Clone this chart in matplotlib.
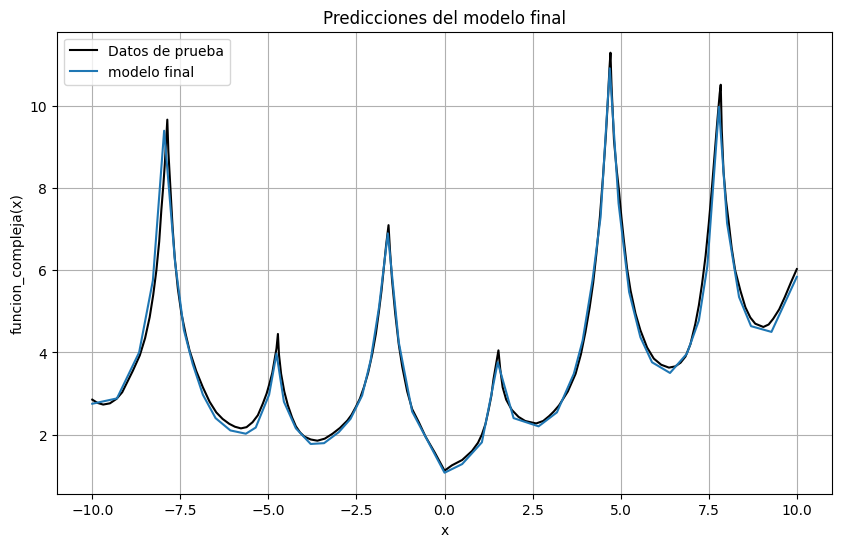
import matplotlib
matplotlib.use("Agg")
import matplotlib.pyplot as plt

# Test data (black line)
x_test = [-10.0, -9.85, -9.69, -9.5, -9.31, -9.15, -9.03, -8.85, -8.65, -8.5,
          -8.37, -8.27, -8.18, -8.1, -8.04, -7.98, -7.94, -7.9, -7.87,
          -7.84, -7.78, -7.72, -7.66, -7.57, -7.47, -7.35, -7.24, -7.05, -6.86,
          -6.67, -6.48, -6.3, -6.11, -5.95, -5.78, -5.62, -5.45, -5.3, -5.16,
          -5.05, -4.97, -4.89, -4.83, -4.77, -4.73,
          -4.70, -4.64, -4.55, -4.45, -4.33, -4.22, -4.1, -3.98, -3.8, -3.61,
          -3.4, -3.18, -2.97, -2.76, -2.64, -2.52, -2.4, -2.29, -2.17, -2.05,
          -1.95, -1.86, -1.79, -1.72, -1.66, -1.59,
          -1.55, -1.49, -1.4, -1.30, -1.2, -1.06, -0.92, -0.73, -0.54, -0.27,
          0.0, 0.21, 0.5, 0.78, 0.95, 1.06, 1.16, 1.25, 1.33, 1.39, 1.46, 1.53,
          1.58, 1.65, 1.75, 1.91, 2.1, 2.29, 2.6, 2.8, 2.97, 3.1,
          3.25, 3.5, 3.72, 3.87, 4.0, 4.12, 4.22, 4.31, 4.41, 4.50,
          4.58, 4.64, 4.68, 4.71,
          4.74, 4.81, 4.88, 4.95, 5.02, 5.09, 5.18, 5.28, 5.42, 5.56,
          5.75, 5.94, 6.15, 6.37, 6.55, 6.7, 6.84, 6.98, 7.12, 7.22,
          7.31, 7.41, 7.50, 7.58, 7.66, 7.74, 7.81, 7.84,
          7.87, 7.92, 7.99, 8.06, 8.15, 8.25, 8.4, 8.54, 8.68, 8.82,
          9.05, 9.2, 9.33, 9.5, 9.66, 9.83, 10.0]
y_test = [2.85, 2.77, 2.73, 2.76, 2.87, 3.03, 3.24, 3.55, 3.93, 4.35,
          4.86, 5.4, 6.0, 6.7, 7.46, 8.1, 8.6, 9.2, 9.67,
          8.9, 7.95, 7.05, 6.32, 5.55, 4.95, 4.45, 4.05, 3.55, 3.15,
          2.8, 2.54, 2.38, 2.26, 2.19, 2.15, 2.18, 2.3, 2.47, 2.75,
          3.0, 3.24, 3.5, 3.8, 4.1, 4.45,
          3.95, 3.48, 3.05, 2.72, 2.42, 2.2, 2.05, 1.95, 1.88, 1.85,
          1.9, 2.02, 2.16, 2.34, 2.48, 2.67, 2.88, 3.15, 3.5, 3.97,
          4.45, 5.02, 5.5, 6.08, 6.6, 7.1,
          6.5, 5.76, 4.95, 4.2, 3.65, 3.05, 2.62, 2.3, 1.95, 1.55,
          1.12, 1.25, 1.38, 1.6, 1.8, 2.0, 2.25, 2.6, 2.95, 3.35, 3.7, 4.05,
          3.6, 3.15, 2.85, 2.6, 2.43, 2.33, 2.27, 2.33, 2.45, 2.56,
          2.71, 3.05, 3.48, 3.95, 4.5, 5.1, 5.7, 6.4, 7.3, 8.3,
          9.3, 10.2, 10.9, 11.3,
          10.5, 9.17, 8.5, 7.95, 7.3, 6.73, 6.05, 5.51, 4.95, 4.54,
          4.12, 3.85, 3.7, 3.63, 3.66, 3.75, 3.9, 4.2, 4.7, 5.15,
          5.67, 6.35, 7.13, 7.9, 8.75, 9.6, 10.3, 10.52,
          9.4, 8.4, 7.7, 7.22, 6.55, 6.0, 5.5, 5.1, 4.85, 4.7,
          4.62, 4.68, 4.82, 5.05, 5.35, 5.7, 6.03]

# Final model predictions (blue line)
x_pred = [-10.0, -9.3, -8.67, -8.28, -7.96, -7.65, -7.40, -7.15, -6.86, -6.5,
          -6.08, -5.64, -5.36, -4.98, -4.77, -4.56, -4.22, -3.80, -3.42, -3.0,
          -2.67, -2.34, -2.1, -1.86, -1.61, -1.30, -0.92, 0.0, 0.5, 1.06,
          1.51, 1.96, 2.67, 3.19, 3.67, 3.92, 4.2, 4.43, 4.69, 4.94,
          5.24, 5.56, 5.89, 6.40, 6.88, 7.22, 7.46, 7.79, 8.02, 8.36,
          8.70, 9.28, 10.0]
y_pred = [2.75, 2.88, 4.0, 5.75, 9.4, 6.2, 4.55, 3.72, 2.97, 2.4,
          2.1, 2.02, 2.17, 2.97, 3.97, 2.8, 2.15, 1.77, 1.79, 2.06,
          2.38, 2.95, 3.8, 5.1, 6.9, 4.25, 2.56, 1.07, 1.28, 1.81,
          3.76, 2.4, 2.2, 2.54, 3.48, 4.29, 5.76, 7.3, 10.92, 7.63,
          5.47, 4.37, 3.76, 3.5, 3.97, 4.78, 6.1, 9.98, 7.15, 5.35,
          4.64, 4.5, 5.84]

fig, ax = plt.subplots(figsize=(10, 6), dpi=100)
ax.plot(x_test, y_test, color="black", label="Datos de prueba")
ax.plot(x_pred, y_pred, color="#1f77b4", label="modelo final")
ax.set_title("Predicciones del modelo final")
ax.set_xlabel("x")
ax.set_ylabel("funcion_compleja(x)")
ax.legend(loc="upper left")
ax.grid(True)
fig.savefig("out.png", dpi=100, bbox_inches="tight")
